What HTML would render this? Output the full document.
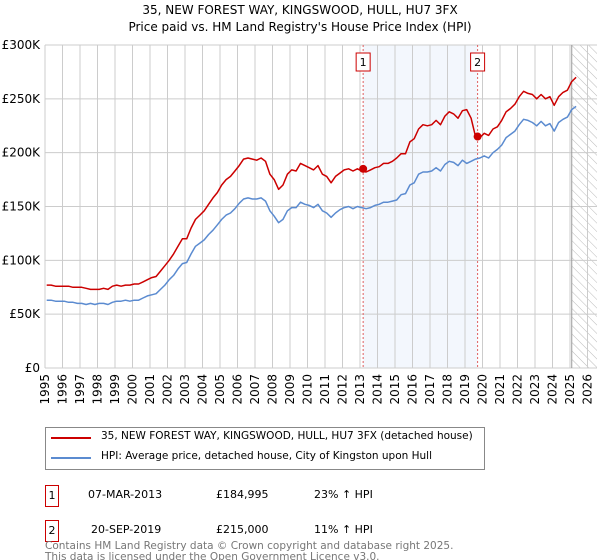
<!DOCTYPE html>
<html><head><meta charset="utf-8">
<style>
body{margin:0;background:#fff;font-family:"DejaVu Sans","Liberation Sans",sans-serif;}
#wrap{position:relative;width:600px;height:560px;overflow:hidden;}
.t{position:absolute;font-size:12px;color:#000;white-space:nowrap;}
svg text{font-family:"DejaVu Sans","Liberation Sans",sans-serif;}
</style></head><body>
<div id="wrap">
<svg id="chart" width="600" height="420" style="position:absolute;left:0;top:0"></svg>
<div style="position:absolute;left:45px;top:427px;width:438px;height:41px;border:1px solid #888;">
 <div><div style="position:absolute;left:5px;top:9px;width:40px;height:2px;background:#cc0000"></div><div class="t" style="left:55px;top:2px;font-size:10.5px">35, NEW FOREST WAY, KINGSWOOD, HULL, HU7 3FX (detached house)</div></div>
 <div><div style="position:absolute;left:5px;top:29px;width:40px;height:2px;background:#5b8bd0"></div><div class="t" style="left:55px;top:22px;font-size:10.5px">HPI: Average price, detached house, City of Kingston upon Hull</div></div>
</div>
<div>
 <div style="position:absolute;left:45px;top:485px;width:12px;height:20px;border:1px solid #cc0000;font-size:11px;text-align:center;line-height:20px">1</div>
 <div class="t" style="left:88px;top:488px;font-size:11px">07-MAR-2013</div>
 <div class="t" style="left:216px;top:488px;font-size:11px">£184,995</div>
 <div class="t" style="left:314px;top:488px;font-size:11px">23% ↑ HPI</div>
</div>
<div>
 <div style="position:absolute;left:45px;top:520px;width:12px;height:20px;border:1px solid #cc0000;font-size:11px;text-align:center;line-height:20px">2</div>
 <div class="t" style="left:91px;top:523px;font-size:11px">20-SEP-2019</div>
 <div class="t" style="left:216px;top:523px;font-size:11px">£215,000</div>
 <div class="t" style="left:314px;top:523px;font-size:11px">11% ↑ HPI</div>
</div>
<div class="t" style="left:45px;top:541px;font-size:10.5px;color:#777;line-height:11px">Contains HM Land Registry data © Crown copyright and database right 2025.<br>This data is licensed under the Open Government Licence v3.0.</div>
</div>
<script>
const years=[1995,1996,1997,1998,1999,2000,2001,2002,2003,2004,2005,2006,2007,2008,2009,2010,2011,2012,2013,2014,2015,2016,2017,2018,2019,2020,2021,2022,2023,2024,2025,2026];
const yTicks=[0,50,100,150,200,250,300];
const yTickLabels=["£0","£50K","£100K","£150K","£200K","£250K","£300K"];
const propertyValues=[77,77,76,76,76,76,75,75,75,74,73,73,73,74,73,76,77,76,77,77,78,78,80,82,84,85,90,95,100,106,113,120,120,130,138,142,146,152,158,163,170,175,178,183,188,194,195,194,193,195,192,180,175,166,170,180,184,183,190,188,186,184,188,180,178,172,178,181,184,185,183,185,183,182,184,186,187,190,190,192,195,199,199,210,213,222,226,225,226,230,226,234,238,236,232,239,240,232,215,214,218,216,222,224,230,238,241,245,252,257,255,254,250,254,250,252,244,252,256,258,266,270];
const hpiValues=[63,63,62,62,62,61,61,60,60,59,60,59,60,60,59,61,62,62,63,62,63,63,65,67,68,69,73,77,82,86,92,97,98,106,113,116,119,124,128,133,138,142,144,148,153,157,158,157,157,158,155,146,141,135,138,146,149,149,154,152,151,149,152,146,144,140,144,147,149,150,148,150,149,148,149,151,152,154,154,155,156,161,162,170,172,180,182,182,183,186,183,189,192,191,188,193,190,192,194,195,197,195,200,203,207,214,217,220,226,231,230,228,225,229,225,227,220,228,231,233,240,243];
const sales=[{n:"1",t:2013.18,v:184.995},{n:"2",t:2019.72,v:215}];
const X0=45,Y0=368,YT=45,PX=17.5,XR=597;
const xs=t=>X0+(t-1995)*PX;
const ys=v=>Y0-v/300*(Y0-YT);
const svg=document.getElementById('chart');
const NS='http://www.w3.org/2000/svg';
function mk(tag,a){const e=document.createElementNS(NS,tag);for(const k in a)e.setAttribute(k,a[k]);svg.appendChild(e);return e;}
let t1=mk('text',{x:300,y:14,'text-anchor':'middle','font-size':'12'});t1.textContent="35, NEW FOREST WAY, KINGSWOOD, HULL, HU7 3FX";


let t2=mk('text',{x:300,y:31,'text-anchor':'middle','font-size':'12'});t2.textContent="Price paid vs. HM Land Registry's House Price Index (HPI)";


let sh=mk('rect',{x:xs(sales[0].t),y:YT,width:xs(sales[1].t)-xs(sales[0].t),height:Y0-YT,fill:'#eef3fc',opacity:0.7});


const defs=mk('defs',{});
defs.innerHTML='<pattern id="h" width="6" height="6" patternUnits="userSpaceOnUse" patternTransform="rotate(-45)"><line x1="0" y1="0" x2="0" y2="6" stroke="#bbb" stroke-width="1"/></pattern>';
let ht=mk('rect',{x:xs(2025.1),y:YT,width:XR-xs(2025.1),height:Y0-YT,fill:'url(#h)'});


years.forEach(y=>{let l=mk('line',{x1:xs(y),x2:xs(y),y1:YT,y2:Y0,stroke:'#ccc','stroke-width':1});


let tx=mk('text',{x:0,y:0,'text-anchor':'end','font-size':'12',transform:'translate('+(xs(y)+4)+',374) rotate(-90)'});tx.textContent=y;

});
yTicks.forEach((v,i)=>{let l=mk('line',{x1:X0,x2:XR,y1:ys(v),y2:ys(v),stroke:'#ccc','stroke-width':1});


let tx=mk('text',{x:40,y:ys(v)+4,'text-anchor':'end','font-size':'12'});tx.textContent=yTickLabels[i];

});
let bl=mk('line',{x1:X0,x2:XR,y1:Y0,y2:Y0,stroke:'#ccc'});


let el=mk('line',{x1:xs(2025.1),x2:xs(2025.1),y1:YT,y2:Y0,stroke:'#999'});


sales.forEach(s=>{let l=mk('line',{x1:xs(s.t),x2:xs(s.t),y1:YT,y2:Y0,stroke:'#e06060','stroke-dasharray':'2,2'});


let r=mk('rect',{x:xs(s.t)-7,y:53,width:14,height:18,fill:'#fff',stroke:'#cc0000'});


let tx=mk('text',{x:xs(s.t),y:66,'text-anchor':'middle','font-size':'11'});tx.textContent=s.n;

});
function path(vals,color,name){const d=vals.map((v,i)=>(i?'L':'M')+xs(1995+i*0.25+0.1).toFixed(1)+','+ys(v).toFixed(1)).join('');
let p=mk('path',{d:d,fill:'none',stroke:color,'stroke-width':1.5,'stroke-linejoin':'round'});

}
path(hpiValues,'#5b8bd0','hpi-line');
path(propertyValues,'#cc0000','property-line');
sales.forEach(s=>{let c=mk('circle',{cx:xs(s.t),cy:ys(s.v),r:4,fill:'#cc0000'});

});
</script>
</body></html>
